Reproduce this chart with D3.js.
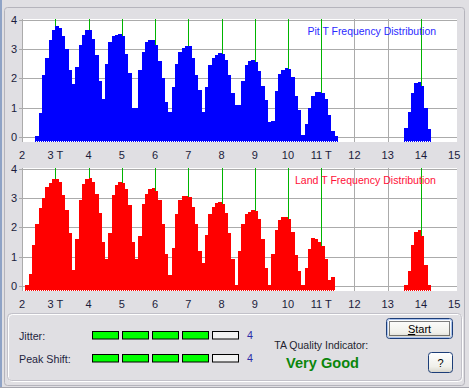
<!DOCTYPE html>
<html>
<head>
<meta charset="utf-8">
<script src="https://cdn.jsdelivr.net/npm/d3@7"></script>
<style>
  body { margin: 0; background: #e0dfe3; }
  svg text { font-family: "Liberation Sans", Arial, sans-serif; }
</style>
</head>
<body>
<div id="chart"></div>
<script>
// T frequency histograms, bins of 0.1 T
const binStep = 0.1;

const pitStart = 2.4;
const pitCounts = [
  0.02, 0.8, 2.1, 2.7, 3.3, 3.65, 3.8, 3.72, 3.45, 3.0,
  2.3, 1.8, 2.4, 3.15, 3.5, 3.66, 3.65, 3.35, 2.8, 1.9,
  1.3, 2.5, 3.25, 3.45, 3.5, 3.51, 3.45, 2.85, 2.2, 1.0,
  1.0, 2.3, 2.9, 3.25, 3.31, 3.32, 3.15, 2.6, 2.0, 1.2,
  0.85, 1.7, 2.5, 2.9, 3.05, 3.1, 3.1, 2.7, 2.1, 1.6,
  0.86, 1.7, 2.45, 2.7, 2.8, 2.86, 2.85, 2.62, 2.1, 1.5,
  1.1, 1.1, 1.9, 2.45, 2.6, 2.63, 2.55, 2.25, 1.75, 1.25,
  0.5, 0.55, 1.55, 2.15, 2.3, 2.37, 2.32, 2.05, 1.4, 0.9,
  0.05, 0.45, 1.0, 1.4, 1.54, 1.54, 1.5, 1.3, 0.75, 0.2,
  0.03
];
const pitHighStart = 13.5;
const pitHighCounts = [0.3, 0.85, 1.5, 1.83, 1.86, 1.75, 1.0, 0.25];

const landStart = 2.1;
const landCounts = [
  0.02, 0.4, 1.4, 2.1, 2.65, 3.0, 3.38, 3.52, 3.66,
  3.66, 3.55, 3.1, 2.6, 1.8, 0.55, 1.6, 2.95, 3.5, 3.66,
  3.7, 3.55, 3.15, 2.5, 1.5, 0.9, 1.8, 3.1, 3.45, 3.55,
  3.52, 3.3, 2.75, 1.5, 0.9, 1.7, 2.8, 3.15, 3.3, 3.34,
  3.25, 2.95, 2.1, 1.1, 0.35, 1.3, 2.45, 2.95, 3.09, 3.09,
  3.05, 2.7, 2.1, 1.2, 0.77, 1.75, 2.45, 2.7, 2.85, 2.88,
  2.8, 2.5, 1.8, 0.9, 0.02, 1.2, 2.1, 2.45, 2.54, 2.6,
  2.55, 2.3, 1.6, 0.6, 0.02, 1.1, 1.9, 2.25, 2.35, 2.37,
  2.3, 1.85, 1.05, 0.5, 0.02, 0.6, 1.25, 1.62, 1.6, 1.5,
  1.35, 0.9, 0.2, 0.31
];
const landHighStart = 13.5;
const landHighCounts = [0.03, 0.5, 1.4, 1.85, 1.92, 1.7, 0.7, 0.03];

const xTicks = [2, 3, 4, 5, 6, 7, 8, 9, 10, 11, 12, 13, 14, 15];
const xTickLabels = ["2", "3 T", "4", "5", "6", "7", "8", "9", "10", "11 T", "12", "13", "14", "15"];
const yTicks = [0, 1, 2, 3, 4];
const expectedT = [3, 4, 5, 6, 7, 8, 9, 10, 11, 14];

const meterLabels = ["Jitter:", "Peak Shift:"];
const meterLevels = [4, 4];
const meterSegments = [1, 2, 3, 4, 5];

const width = 469, height = 388;

const svg = d3.select('#chart').append('svg')
    .attr('width', width)
    .attr('height', height)
    .style('display', 'block');

// window frame bits
svg.append('rect').attr('x', 0).attr('y', 0).attr('width', 2).attr('height', height).attr('fill', '#8fa3c6');
svg.append('rect')
    .attr('x', 4.5).attr('y', 7.5).attr('width', 460).attr('height', 378)
    .attr('rx', 3).attr('fill', 'none').attr('stroke', '#b5b4bc');
svg.append('line').attr('x1', 0).attr('x2', width).attr('y1', 387.5).attr('y2', 387.5).attr('stroke', '#a6a6ae');

function makeBins(start, counts) {
    const bins = counts.map((v, i) => ({ t: Math.round((start + i * binStep) * 10) / 10, v: v }));
    // closing edge of the last bin
    bins.push({ t: Math.round((start + counts.length * binStep) * 10) / 10, v: counts[counts.length - 1] });
    return bins;
}

function drawPlot(top, segments, color, title, titleColor, titleX, titleW) {
    const g = svg.append('g');
    const x = d3.scaleLinear().domain([2, 15]).range([22.06, 454.2]);
    const y = d3.scaleLinear().domain([0, 4]).range([top + 116.7, top]);
    const base = top + 122;

    g.append('rect')
        .attr('x', 22).attr('y', top - 1)
        .attr('width', 435).attr('height', 123)
        .attr('fill', '#ffffff');

    g.append('g').selectAll('line')
        .data(yTicks)
        .join('line')
        .attr('x1', 19).attr('x2', 457)
        .attr('y1', d => Math.round(y(d)) + 0.5)
        .attr('y2', d => Math.round(y(d)) + 0.5)
        .attr('stroke', '#ababab');

    g.append('g').selectAll('line')
        .data(xTicks.filter(d => d < 15))
        .join('line')
        .attr('x1', d => Math.round(x(d)) + 0.5)
        .attr('x2', d => Math.round(x(d)) + 0.5)
        .attr('y1', top - 1).attr('y2', base)
        .attr('stroke', '#ababab');

    g.append('g').selectAll('line')
        .data(expectedT)
        .join('line')
        .attr('x1', d => Math.round(x(d)) + 0.5)
        .attr('x2', d => Math.round(x(d)) + 0.5)
        .attr('y1', top - 1).attr('y2', base)
        .attr('stroke', '#00b400');

    const area = d3.area()
        .x(d => Math.round(x(d.t)))
        .y0(base)
        .y1(d => Math.round(y(d.v)))
        .curve(d3.curveStepAfter);

    segments.forEach(seg => {
        const bins = makeBins(seg.start, seg.counts);
        g.append('path')
            .datum(bins)
            .attr('d', area)
            .attr('fill', color)
            .attr('shape-rendering', 'crispEdges');
        // serrated bottom row
        g.append('line')
            .attr('x1', Math.round(x(bins[0].t)) + 1)
            .attr('x2', Math.round(x(bins[bins.length - 1].t)))
            .attr('y1', base - 0.5).attr('y2', base - 0.5)
            .attr('stroke', '#ffffff')
            .attr('stroke-dasharray', '1 1');
    });

    g.append('g').selectAll('text')
        .data(xTicks)
        .join('text')
        .attr('x', d => x(d))
        .attr('y', top + 139)
        .attr('text-anchor', 'middle')
        .attr('font-size', 11)
        .attr('fill', '#1b1b3b')
        .text((d, i) => xTickLabels[i]);

    g.append('g').selectAll('text')
        .data(yTicks)
        .join('text')
        .attr('x', 17)
        .attr('y', d => y(d) + 4)
        .attr('text-anchor', 'end')
        .attr('font-size', 11)
        .attr('fill', '#1b1b3b')
        .text(d => d);

    g.append('text')
        .attr('x', titleX)
        .attr('y', top + 15.3)
        .attr('font-size', 10.5)
        .attr('textLength', titleW)
        .attr('lengthAdjust', 'spacingAndGlyphs')
        .attr('fill', titleColor)
        .text(title);
}

drawPlot(20, [
    { start: pitStart, counts: pitCounts },
    { start: pitHighStart, counts: pitHighCounts }
], '#0000ff', 'Pit T Frequency Distribution', '#2a2aff', 307.5, 128.5);

drawPlot(169, [
    { start: landStart, counts: landCounts },
    { start: landHighStart, counts: landHighCounts }
], '#ff0000', 'Land T Frequency Distribution', '#ff1038', 295, 141);

// quality group box
svg.append('rect')
    .attr('x', 8.5).attr('y', 314.5).attr('width', 454).attr('height', 67)
    .attr('rx', 4).attr('fill', 'none').attr('stroke', '#ffffff');
svg.append('rect')
    .attr('x', 7.5).attr('y', 313.5).attr('width', 454).attr('height', 67)
    .attr('rx', 4).attr('fill', 'none').attr('stroke', '#c2c1c9');

const seg = d3.scaleBand()
    .domain(meterSegments)
    .range([92, 239])
    .paddingInner(0.1);

const meterRow = d3.scalePoint()
    .domain(meterLabels)
    .range([331.5, 354.5]);

const meters = svg.append('g').selectAll('g')
    .data(meterLabels)
    .join('g');

meters.append('text')
    .attr('x', 19)
    .attr('y', d => meterRow(d) + 8)
    .attr('font-size', 10.7)
    .attr('fill', '#1f1f3f')
    .text(d => d);

meters.each(function(label, i) {
    const top = meterRow(label);
    d3.select(this).selectAll('rect')
        .data(meterSegments)
        .join('rect')
        .attr('x', d => Math.round(seg(d)) + 0.5)
        .attr('y', top)
        .attr('width', Math.round(seg.bandwidth()) - 1)
        .attr('height', 7.5)
        .attr('fill', d => d <= meterLevels[i] ? '#00ff00' : '#f2f2f2')
        .attr('stroke', '#000000');
    d3.select(this).append('text')
        .attr('x', 247)
        .attr('y', top + 7.7)
        .attr('font-size', 10.7)
        .attr('fill', '#2b2ba8')
        .text(meterLevels[i]);
});

svg.append('text')
    .attr('x', 274.3).attr('y', 348.5)
    .attr('font-size', 10.5)
    .attr('textLength', 94)
    .attr('lengthAdjust', 'spacingAndGlyphs')
    .attr('fill', '#1f1f2f')
    .text('TA Quality Indicator:');

svg.append('text')
    .attr('x', 286).attr('y', 367.5)
    .attr('font-size', 14)
    .attr('font-weight', 'bold')
    .attr('textLength', 73)
    .attr('lengthAdjust', 'spacingAndGlyphs')
    .attr('fill', '#0b860b')
    .text('Very Good');

// buttons
const defs = svg.append('defs');
const grad = defs.append('linearGradient').attr('id', 'btn').attr('x1', 0).attr('y1', 0).attr('x2', 0).attr('y2', 1);
grad.append('stop').attr('offset', '0%').attr('stop-color', '#ffffff');
grad.append('stop').attr('offset', '70%').attr('stop-color', '#f0f0ea');
grad.append('stop').attr('offset', '100%').attr('stop-color', '#d8d6cc');

svg.append('rect')
    .attr('x', 386.5).attr('y', 318.5).attr('width', 66).attr('height', 20)
    .attr('rx', 3).attr('fill', 'url(#btn)').attr('stroke', '#1d3e78');
svg.append('rect')
    .attr('x', 387.5).attr('y', 319.5).attr('width', 64).attr('height', 18)
    .attr('rx', 2).attr('fill', 'none').attr('stroke', '#a9c2ee');
svg.append('rect')
    .attr('x', 389.5).attr('y', 321.5).attr('width', 60).attr('height', 14)
    .attr('fill', 'none').attr('stroke', '#000000').attr('stroke-dasharray', '1 1');
const startText = svg.append('text')
    .attr('x', 419.5).attr('y', 333)
    .attr('text-anchor', 'middle')
    .attr('font-size', 11)
    .attr('fill', '#000000');
startText.append('tspan').attr('text-decoration', 'underline').text('S');
startText.append('tspan').text('tart');

svg.append('rect')
    .attr('x', 428.5).attr('y', 352.5).attr('width', 24).attr('height', 20)
    .attr('rx', 3).attr('fill', 'url(#btn)').attr('stroke', '#1d3e78');
svg.append('text')
    .attr('x', 440.5).attr('y', 366.5)
    .attr('text-anchor', 'middle')
    .attr('font-size', 11)
    .attr('fill', '#000000')
    .text('?');
</script>
</body>
</html>
